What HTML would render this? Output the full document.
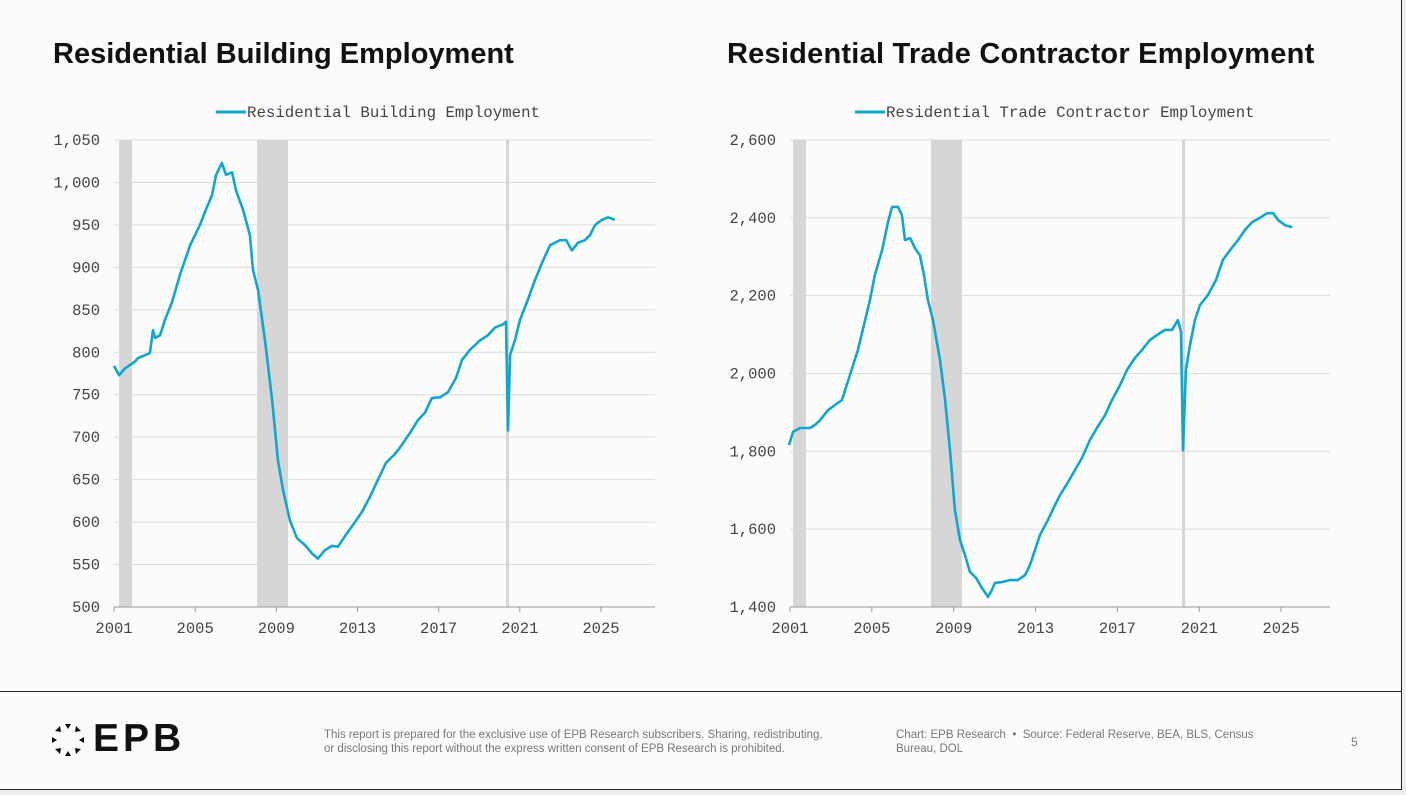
<!DOCTYPE html>
<html><head><meta charset="utf-8"><style>
body{margin:0;width:1406px;height:795px;background:#efefef;overflow:hidden;font-family:"Liberation Sans",sans-serif;}
#page{position:absolute;left:0;top:0;width:1401px;height:789px;background:#fcfcfa;border-right:1.5px solid #222;border-bottom:1.5px solid #222;}
.title{position:absolute;top:38px;font-size:29px;font-weight:bold;color:#111;letter-spacing:0px;}
#footer{position:absolute;left:0;top:691px;width:1401px;height:98px;border-top:1.5px solid #222;}
.ft{position:absolute;font-size:11.5px;color:#777;line-height:14px;font-family:"Liberation Sans Narrow","Liberation Sans",sans-serif;}
svg text{font-family:"Liberation Mono","DejaVu Sans Mono",monospace;}
</style></head><body>
<div id="page">
<div class="title" style="left:53px">Residential Building Employment</div>
<div class="title" style="left:727px;letter-spacing:0.23px">Residential Trade Contractor Employment</div>
<svg id="chart" width="1401" height="690" style="position:absolute;left:0;top:0"></svg>
<div id="footer">
<svg style="position:absolute;left:50px;top:30px" width="40" height="40">
<g fill="#111" transform="translate(18,18)">
<polygon points="-3,-16 3,-16 0,-11"/><polygon points="-3,16 3,16 0,11"/><polygon points="-16,-3 -16,3 -11,0"/><polygon points="16,-3 16,3 11,0"/>
<polygon points="8,-14 13,-9 7,-8"/><polygon points="-8,-14 -13,-9 -7,-8"/><polygon points="8,14 13,9 7,8"/><polygon points="-8,14 -13,9 -7,8"/>
</g></svg>
<div style="position:absolute;left:93px;top:25px;font-size:39px;font-weight:bold;color:#111;letter-spacing:4px">EPB</div>
<div class="ft" style="left:324px;top:36px">This report is prepared for the exclusive use of EPB Research subscribers. Sharing, redistributing,<br>or disclosing this report without the express written consent of EPB Research is prohibited.</div>
<div class="ft" style="left:896px;top:36px">Chart: EPB Research &nbsp;•&nbsp; Source: Federal Reserve, BEA, BLS, Census<br>Bureau, DOL</div>
<div class="ft" style="left:1351px;top:43px;font-size:12px">5</div>
</div>
</div>
<script>
const xTicks=[2001,2005,2009,2013,2017,2021,2025];
const leftYTicks=[500,550,600,650,700,750,800,850,900,950,1000,1050];
const rightYTicks=[1400,1600,1800,2000,2200,2400,2600];
const leftRecessions=[[2001.25,2001.89],[2008.05,2009.58],[2020.32,2020.47]];
const rightRecessions=[[2001.15,2001.78],[2007.89,2009.41],[2020.16,2020.31]];
const leftYears=[2001.00,2001.25,2001.54,2002.03,2002.18,2002.77,2002.92,2003.02,2003.27,2003.51,2003.86,2004.25,2004.75,2005.24,2005.53,2005.83,2006.03,2006.32,2006.52,2006.82,2007.01,2007.36,2007.70,2007.85,2008.10,2008.44,2008.79,2009.08,2009.33,2009.67,2010.02,2010.41,2010.76,2011.05,2011.40,2011.74,2012.04,2012.43,2012.88,2013.22,2013.62,2014.01,2014.41,2014.80,2015.10,2015.59,2015.98,2016.33,2016.67,2017.07,2017.46,2017.86,2018.15,2018.55,2019.04,2019.43,2019.78,2020.17,2020.32,2020.42,2020.52,2020.76,2021.01,2021.40,2021.75,2022.09,2022.49,2022.98,2023.28,2023.57,2023.87,2024.21,2024.46,2024.71,2025.05,2025.35,2025.69];
const leftValues=[784,773,781,789,793,799,826,817,820,838,859,891,926,950,968,985,1009,1023,1009,1012,991,968,938,897,873,814,744,673,638,602,581,573,563,557,567,572,571,585,600,612,630,650,670,679,688,705,720,729,746,747,753,770,791,803,814,820,829,833,836,708,797,814,838,862,885,905,926,932,932,920,929,932,938,950,956,959,956];
const rightYears=[2000.95,2001.15,2001.49,2001.98,2002.22,2002.47,2002.86,2003.20,2003.54,2003.93,2004.32,2004.67,2004.91,2005.15,2005.50,2005.79,2005.99,2006.28,2006.47,2006.62,2006.87,2007.11,2007.35,2007.55,2007.74,2007.99,2008.33,2008.58,2008.82,2009.06,2009.31,2009.55,2009.80,2010.09,2010.38,2010.68,2010.87,2011.02,2011.36,2011.75,2012.14,2012.49,2012.73,2012.97,2013.22,2013.61,2013.95,2014.20,2014.59,2014.93,2015.27,2015.66,2016.00,2016.40,2016.74,2017.13,2017.47,2017.86,2018.20,2018.59,2018.94,2019.33,2019.67,2019.96,2020.11,2020.21,2020.35,2020.55,2020.79,2021.04,2021.43,2021.82,2022.16,2022.51,2022.90,2023.24,2023.59,2023.97,2024.32,2024.62,2024.86,2025.20,2025.55];
const rightValues=[1816,1850,1860,1860,1868,1880,1906,1919,1932,1996,2060,2137,2189,2253,2317,2389,2428,2428,2407,2343,2348,2322,2304,2253,2189,2137,2035,1932,1803,1649,1572,1534,1490,1475,1449,1426,1444,1462,1464,1469,1469,1482,1508,1546,1585,1624,1662,1688,1721,1752,1783,1829,1860,1893,1932,1970,2009,2040,2060,2086,2099,2112,2112,2137,2107,1803,2009,2073,2137,2176,2202,2240,2292,2317,2343,2369,2389,2400,2412,2412,2394,2381,2376];

const NS='http://www.w3.org/2000/svg';
const svg=document.getElementById('chart');
function mk(tag,attrs,parent){const e=document.createElementNS(NS,tag);for(const k in attrs)e.setAttribute(k,attrs[k]);(parent||svg).appendChild(e);return e;}
function drawChart(o){
  const g=mk('g',{});
  
  
  const xs=v=>o.x0+(v-2001)*o.pxYear;
  const ys=v=>o.yTop+(o.yMax-v)/(o.yMax-o.yMin)*(o.yBot-o.yTop);
  o.yTicks.forEach(t=>{
    const l=mk('line',{x1:o.x0,x2:o.x1,y1:ys(t),y2:ys(t),stroke:t===o.yMin?'#aaa':'#dcdcdc','stroke-width':1},g);
    
    
    const tx=mk('text',{x:o.x0-14,y:ys(t)+5,'text-anchor':'end','font-size':15.5,fill:'#444'},g);
    tx.textContent=t.toLocaleString('en-US');
    
    
  });
  o.rec.forEach(r=>{
    const b=mk('rect',{x:xs(r[0]),y:o.yTop,width:Math.max(2.5,xs(r[1])-xs(r[0])),height:o.yBot-o.yTop,fill:'#d6d6d6'},g);
    
    
  });
  mk('line',{x1:o.x0,x2:o.x1,y1:o.yBot,y2:o.yBot,stroke:'#999','stroke-width':1},g);
  xTicks.forEach(t=>{
    mk('line',{x1:xs(t),x2:xs(t),y1:o.yBot,y2:o.yBot+5,stroke:'#999'},g);
    const tx=mk('text',{x:xs(t),y:o.yBot+26,'text-anchor':'middle','font-size':15.5,fill:'#444'},g);
    tx.textContent=t;
    
    
  });
  const d=o.years.map((y,i)=>(i?'L':'M')+xs(y).toFixed(1)+','+ys(o.vals[i]).toFixed(1)).join('');
  const p=mk('path',{d:d,fill:'none',stroke:'#0fa6cf','stroke-width':2.6,'stroke-linejoin':'round'},g);
  
  
  const lx=o.legX;
  const ll=mk('line',{x1:lx,x2:lx+30,y1:112,y2:112,stroke:'#0fa6cf','stroke-width':3},g);
  
  
  const lt=mk('text',{x:lx+31,y:117,'font-size':15.75,fill:'#444'},g);
  lt.textContent=o.legend;
  
  
}
drawChart({name:'left-chart',x0:114,x1:655,pxYear:20.29,yTop:140,yBot:607,yMin:500,yMax:1050,yTicks:leftYTicks,rec:leftRecessions,years:leftYears,vals:leftValues,legX:216,legend:'Residential Building Employment'});
drawChart({name:'right-chart',x0:790,x1:1330,pxYear:20.46,yTop:140,yBot:607,yMin:1400,yMax:2600,yTicks:rightYTicks,rec:rightRecessions,years:rightYears,vals:rightValues,legX:855,legend:'Residential Trade Contractor Employment'});
</script>
</body></html>
